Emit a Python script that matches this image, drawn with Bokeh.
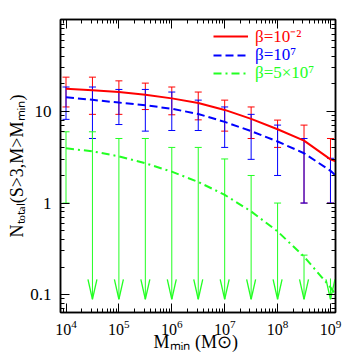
import math
from bokeh.plotting import figure
from bokeh.models import (Range1d, LogAxis, FixedTicker, CustomJSTickFormatter, Whisker,
                          TeeHead, ColumnDataSource, Legend, LegendItem)
from bokeh.embed import file_html
from bokeh.resources import INLINE

# ---------------- data ----------------
m_min = [1.0e4, 3.162e4, 1.0e5, 3.162e5, 1.0e6, 3.162e6, 1.0e7, 3.162e7, 1.0e8, 3.162e8, 1.0e9]

red_n = [17.7, 17.1, 16.3, 15.2, 13.9, 12.4, 10.4, 8.3, 6.4, 4.8, 3.0]
red_hi = [23.7, 23.7, 21.6, 20.4, 18.5, 16.3, 13.3, 11.2, 8.05, 7.1, 5.07]
red_lo = [11.2, 9.3, 9.3, 10.5, 9.2, 8.1, 6.1, 5.07, 4.05, 1.0, 1.0]

blue_n = [14.3, 13.4, 12.5, 11.7, 10.7, 9.4, 7.7, 6.1, 4.7, 3.5, 2.25]
blue_hi = [18.5, 18.5, 17.4, 17.4, 16.3, 13.3, 11.2, 9.3, 7.1, 5.07, 3.08]
blue_lo = [8.2, 5.07, 7.2, 6.1, 6.2, 6.2, 4.05, 3.0, 2.0, 1.0, 1.0]

green_n = [3.96, 3.67, 3.24, 2.72, 2.2, 1.7, 1.23, 0.81, 0.49, 0.26, 0.12]
green_hi = [6.0, 6.0, 5.07, 5.07, 4.05, 4.05, 3.03, 2.0, 1.0, 0.27, 0.15]
green_lo = [1.0, None, None, None, None, None, None, None, None, None, None]  # None = upper limit
green_tip = 0.089   # where the upper-limit arrows end

# curves continue to the right frame edge
edge_m = 1.25e9
red_edge, blue_edge, green_edge = 2.85, 2.0, 0.10

x_major = [1e4, 1e5, 1e6, 1e7, 1e8, 1e9]
y_major = [0.1, 1, 10]

x_title = "M\u2098\u1d62\u2099  (M\u2299)"
y_title = "N\u209c\u2092\u209c\u2090\u2097(S>3,M>M\u2098\u1d62\u2099)"

RED, BLUE, GREEN = "#ff0000", "#0000ff", "#22ff22"
FONT = "Liberation Serif"

# ---------------- figure ----------------
p = figure(width=352, height=354, x_axis_type="log", y_axis_type="log",
           x_range=Range1d(10 ** 3.896, 10 ** 9.095), y_range=Range1d(0.0638, 101),
           output_backend="svg", toolbar_location=None,
           min_border_left=60, min_border_right=17, min_border_top=19, min_border_bottom=39)
p.grid.visible = False
p.outline_line_color = "black"
p.outline_line_width = 1.5
p.background_fill_color = "white"

x_minor = [m * 10 ** e for e in range(3, 10) for m in range(2, 10)]
y_minor = [m * 10 ** e for e in range(-2, 2) for m in range(2, 10)]
xticker = FixedTicker(ticks=x_major, minor_ticks=x_minor)
yticker = FixedTicker(ticks=y_major, minor_ticks=y_minor)


def style_axis(ax):
    ax.axis_line_color = "black"
    ax.axis_line_width = 1.5
    ax.major_tick_in = 9
    ax.major_tick_out = 0
    ax.minor_tick_in = 4
    ax.minor_tick_out = 0
    ax.major_tick_line_color = "black"
    ax.minor_tick_line_color = "black"
    ax.major_label_text_font = FONT
    ax.major_label_text_font_size = "17px"
    ax.major_label_text_color = "black"
    ax.axis_label_text_font = FONT
    ax.axis_label_text_font_style = "normal"
    ax.axis_label_text_font_size = "18px"
    ax.axis_label_text_color = "black"


xa = p.xaxis[0]
ya = p.yaxis[0]
xa.ticker = xticker
ya.ticker = yticker
ya.formatter = CustomJSTickFormatter(code="return tick >= 1 ? tick.toFixed(0) : tick.toFixed(1)")
style_axis(xa)
style_axis(ya)
xa.major_label_text_font_size = "16px"
xa.major_label_standoff = 7
ya.major_label_standoff = 9
xa.axis_label = x_title
ya.axis_label = y_title
xa.axis_label_standoff = -6
ya.axis_label_standoff = 0

blank = "return ''"
top = LogAxis(ticker=xticker, formatter=CustomJSTickFormatter(code=blank))
right = LogAxis(ticker=yticker, formatter=CustomJSTickFormatter(code=blank))
for ax in (top, right):
    style_axis(ax)
    ax.major_label_standoff = 0
p.add_layout(top, "above")
p.add_layout(right, "right")

# ---------------- curves ----------------
cx = m_min + [edge_m]
r_red = p.line(cx, red_n + [red_edge], line_color=RED, line_width=2)
r_blue = p.line(cx, blue_n + [blue_edge], line_color=BLUE, line_width=2, line_dash="8 4")
r_green = p.line(cx, green_n + [green_edge], line_color=GREEN, line_width=2, line_dash="8 4 2 4")

# ---------------- error bars ----------------
def whisk(xs, hi, lo, color, upper_head=True, lower_head=True):
    src = ColumnDataSource(dict(x=xs, hi=hi, lo=lo))
    w = Whisker(base="x", upper="hi", lower="lo", source=src, dimension="height",
                line_color=color, line_width=1,
                upper_head=TeeHead(size=7, line_color=color, line_width=1) if upper_head else None,
                lower_head=TeeHead(size=7, line_color=color, line_width=1) if lower_head else None)
    p.add_layout(w)


whisk(m_min, red_hi, red_lo, RED)
whisk(m_min, blue_hi, blue_lo, BLUE)

# green: measured point (both caps) and upper limits (arrows)
gi_det = [i for i, v in enumerate(green_lo) if v is not None]
gi_lim = [i for i, v in enumerate(green_lo) if v is None]
whisk([m_min[i] for i in gi_det], [green_hi[i] for i in gi_det],
      [green_lo[i] for i in gi_det], GREEN)
gi_cap = gi_lim[:-1]
whisk([m_min[i] for i in gi_cap], [green_hi[i] for i in gi_cap],
      [green_tip] * len(gi_cap), GREEN, lower_head=False)
last = gi_lim[-1]
p.segment([m_min[last]], [green_hi[last]], [m_min[last]], [green_tip], line_color=GREEN, line_width=1)

# open arrow heads (V) in log space
fx = 10 ** 0.085
fy = 10 ** 0.216
ax_ = [m_min[i] for i in gi_lim]
p.segment([x / fx for x in ax_], [green_tip * fy] * len(ax_), ax_, [green_tip] * len(ax_),
          line_color=GREEN, line_width=1.3)
p.segment([x * fx for x in ax_], [green_tip * fy] * len(ax_), ax_, [green_tip] * len(ax_),
          line_color=GREEN, line_width=1.3)

# ---------------- legend ----------------
labels = [("\u03b2=10\u207b\u00b2", r_red, RED, 265),
          ("\u03b2=10\u2077", r_blue, BLUE, 247),
          ("\u03b2=5\u00d710\u2077", r_green, GREEN, 229)]
for text, rend, col, yb in labels:
    lg = Legend(items=[LegendItem(label=text, renderers=[rend])], location=(153, yb),
                padding=0, margin=0, spacing=0, glyph_width=35, glyph_height=18,
                label_height=18, label_standoff=7, label_text_font=FONT,
                label_text_font_size="17px", label_text_color=col,
                label_text_baseline="alphabetic",
                border_line_color=None, background_fill_alpha=0)
    p.add_layout(lg)

open("out.html", "w").write(file_html(p, INLINE))
